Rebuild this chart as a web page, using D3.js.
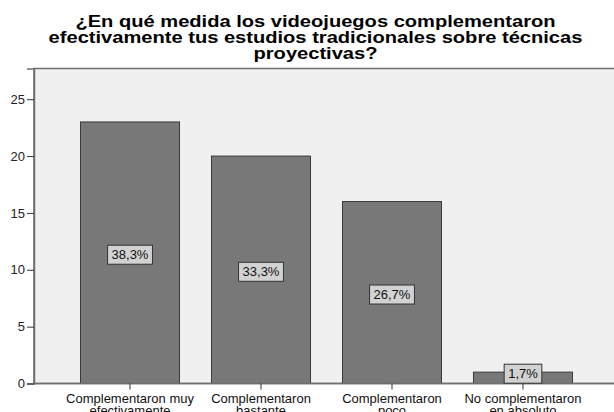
<!DOCTYPE html>
<html><head><meta charset="utf-8">
<script src="https://cdn.jsdelivr.net/npm/d3@7"></script>
<style>body{margin:0;background:#fff}svg{display:block}text{font-family:"Liberation Sans",Arial,sans-serif}</style>
</head><body>
<svg id="c" width="614" height="412"></svg>
<script>
const titleLines = ["¿En qué medida los videojuegos complementaron", "efectivamente tus estudios tradicionales sobre técnicas", "proyectivas?"];
const categories = ["Complementaron muy efectivamente", "Complementaron bastante", "Complementaron poco", "No complementaron en absoluto"];
const categoryLines = [["Complementaron muy", "efectivamente"], ["Complementaron", "bastante"], ["Complementaron", "poco"], ["No complementaron", "en absoluto"]];
const counts = [23, 20, 16, 1];
const percentLabels = ["38,3%", "33,3%", "26,7%", "1,7%"];
const yTicks = [0, 5, 10, 15, 20, 25];

const svg = d3.select("#c");
const plotLeft = 34, plotTop = 68.5, baseline = 383.5, rightEdge = 640;

const x = d3.scaleBand().domain(categories).range([80.5, 572.5]).paddingInner(0.244).paddingOuter(0);
const y = d3.scaleLinear().domain([0, 27.7]).range([baseline, plotTop]);

// title
const tcx = 315.5;
const t = svg.append("text").attr("text-anchor", "middle").attr("font-weight", "bold").attr("font-size", 16).attr("fill", "#000")
  .attr("transform", `translate(${tcx},0) scale(1.257,1)`);
titleLines.forEach((l, i) => t.append("tspan").attr("x", 0).attr("y", 27.3 + i * 16).text(l));

// plot background
svg.append("rect").attr("x", plotLeft).attr("y", plotTop).attr("width", rightEdge - plotLeft).attr("height", baseline - plotTop)
  .attr("fill", "#f0f0f0").attr("stroke", "#6e6e6e").attr("stroke-width", 1.5);

// bars
svg.selectAll("rect.bar").data(categories).join("rect").attr("class", "bar")
  .attr("x", d => x(d)).attr("width", x.bandwidth())
  .attr("y", (d, i) => y(counts[i])).attr("height", (d, i) => baseline - y(counts[i]))
  .attr("fill", "#787878").attr("stroke", "#3a3a3a").attr("stroke-width", 1);

// axes
const ya = svg.append("g").attr("transform", `translate(${plotLeft},0)`)
  .call(d3.axisLeft(y).tickValues(yTicks).tickSize(7).tickPadding(2).tickFormat(d3.format("d")));
ya.select(".domain").attr("stroke", "#6e6e6e").attr("stroke-width", 1.5);
ya.selectAll(".tick line").attr("stroke", "#333");
ya.selectAll(".tick text").attr("font-size", 13).attr("fill", "#222").style("font-family", "Liberation Sans, Arial, sans-serif");

const xa = svg.append("g").attr("transform", `translate(0,${baseline})`)
  .call(d3.axisBottom(x).tickSize(6).tickFormat(""));
xa.select(".domain").attr("stroke", "#6e6e6e").attr("stroke-width", 1.5).attr("d", `M${plotLeft},0H${rightEdge}`);
xa.selectAll(".tick line").attr("stroke", "#333");
xa.selectAll(".tick").each(function(d, i) {
  const tx = d3.select(this).append("text").attr("text-anchor", "middle").attr("font-size", 13).attr("fill", "#111");
  categoryLines[i].forEach((l, j) => tx.append("tspan").attr("x", 0).attr("y", 19.3 + j * 12).text(l));
});

// percent labels
const lg = svg.append("g");
categories.forEach((c, i) => {
  const cx = x(c) + x.bandwidth() / 2;
  const h = 19;
  let cy = (baseline + y(counts[i])) / 2 + 2;
  cy = Math.min(cy, baseline - h / 2 - 0.3);
  const g = lg.append("g");
  const txt = g.append("text").attr("x", cx).attr("y", cy + 4.7).attr("text-anchor", "middle")
    .attr("font-size", 13).attr("fill", "#111").text(percentLabels[i]);
  const w = txt.node().getComputedTextLength() + 8;
  g.insert("rect", "text").attr("x", cx - w / 2).attr("y", cy - h / 2).attr("width", w).attr("height", h)
    .attr("fill", "#d2d2d2").attr("stroke", "#333").attr("stroke-width", 1);
});
</script>
</body></html>
